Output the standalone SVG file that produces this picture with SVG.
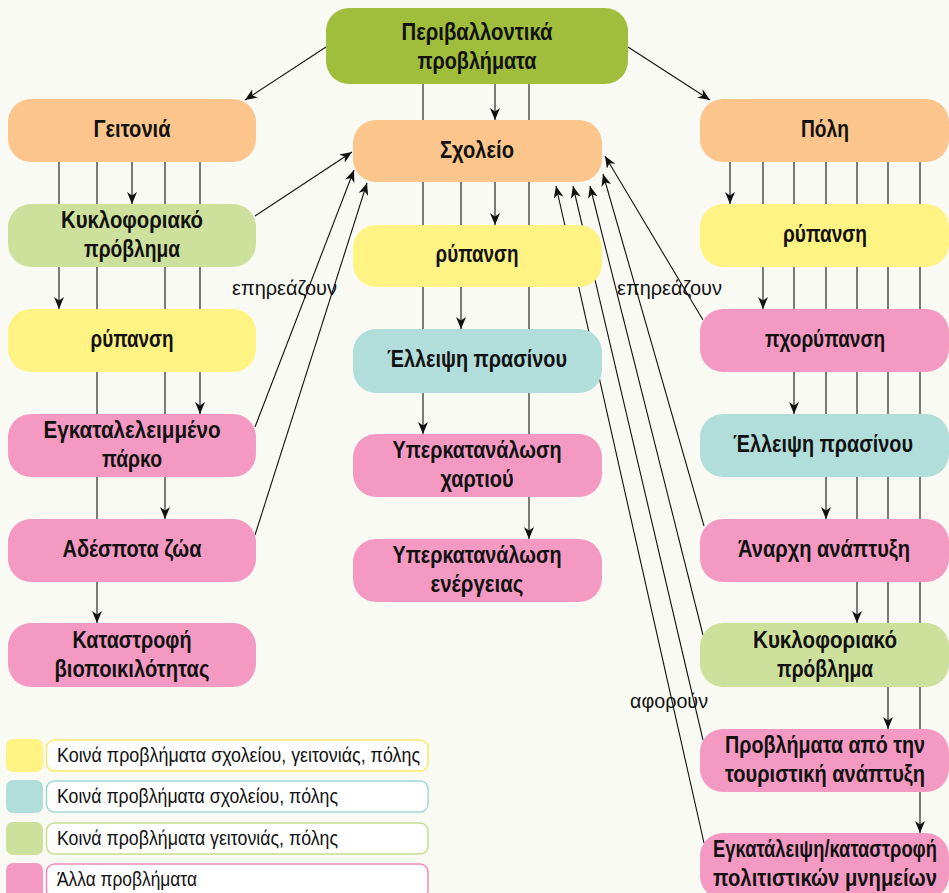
<svg xmlns="http://www.w3.org/2000/svg" width="949" height="893" viewBox="0 0 949 893">
<style>
.bg{fill:#fafaf5}
.n rect{rx:23px;ry:23px}
.top{fill:#a0be3b}
.peach{fill:#fbc58b}
.yel{fill:#fff383}
.teal{fill:#b1dedb}
.grn{fill:#cde09c}
.pink{fill:#f49ac2}
.t{font-family:"Liberation Sans",Arial,sans-serif;font-weight:bold;font-size:24px;fill:#111;text-anchor:middle}
.l{font-family:"Liberation Sans",Arial,sans-serif;font-size:21px;fill:#111}
.v{stroke:#444;stroke-width:1.4;fill:none;marker-end:url(#ah)}
.x{stroke:#111;stroke-width:1.1;fill:none;marker-end:url(#ah)}
.lb{fill:#fff;stroke-width:1.5}
</style>
<defs>
<marker id="ah" viewBox="0 0 12 10" refX="12" refY="5" markerWidth="12" markerHeight="10" markerUnits="userSpaceOnUse" orient="auto">
<path d="M0,0 L12,5 L0,10 L3.5,5 z" fill="#111"/>
</marker>
</defs>
<rect class="bg" x="0" y="0" width="949" height="893"/>

<g id="connectors">
<path class="x" d="M326,47 L245,100"/>
<path class="x" d="M628,47 L710,100"/>
<path class="v" d="M495,84 V120"/>
<path class="v" d="M423,84 V434"/>
<path class="v" d="M529,84 V539"/>
<path class="v" d="M495,182 V225"/>
<path class="v" d="M461,182 V329"/>
<path class="v" d="M132,162 V204"/>
<path class="v" d="M59,162 V309"/>
<path class="v" d="M200,162 V414"/>
<path class="v" d="M165,162 V519"/>
<path class="v" d="M97,162 V623"/>
<path class="v" d="M730,162 V204"/>
<path class="v" d="M763,162 V309"/>
<path class="v" d="M794,162 V414"/>
<path class="v" d="M826,162 V519"/>
<path class="v" d="M857,162 V623"/>
<path class="v" d="M888,162 V729"/>
<path class="v" d="M920,162 V833"/>
<path class="x" d="M255,216 L352,152"/>
<path class="x" d="M255,427 L354,170"/>
<path class="x" d="M255,535 L367,183"/>
<path class="x" d="M703,320 L605,156"/>
<path class="x" d="M704,526 L603,174"/>
<path class="x" d="M703,635 L590,186"/>
<path class="x" d="M703,740 L573,186"/>
<path class="x" d="M704,843 L556,186"/>
</g>

<g id="n-top" class="n"><rect class="top" x="326" y="8" width="302" height="76"/>
<text class="t" x="477" y="40" textLength="151" lengthAdjust="spacingAndGlyphs">Περιβαλλοντικά</text>
<text class="t" x="477" y="69" textLength="119" lengthAdjust="spacingAndGlyphs">προβλήματα</text></g>

<g id="n-geitonia" class="n"><rect class="peach" x="8" y="99" width="248" height="63"/>
<text class="t" x="132" y="137" textLength="77" lengthAdjust="spacingAndGlyphs">Γειτονιά</text></g>
<g id="n-kykl-l" class="n"><rect class="grn" x="8" y="204" width="248" height="63"/>
<text class="t" x="132" y="228" textLength="142" lengthAdjust="spacingAndGlyphs">Κυκλοφοριακό</text>
<text class="t" x="132" y="257" textLength="96" lengthAdjust="spacingAndGlyphs">πρόβλημα</text></g>
<g id="n-ryp-l" class="n"><rect class="yel" x="8" y="309" width="248" height="63"/>
<text class="t" x="132" y="347" textLength="83" lengthAdjust="spacingAndGlyphs">ρύπανση</text></g>
<g id="n-parko" class="n"><rect class="pink" x="8" y="414" width="248" height="63"/>
<text class="t" x="132" y="438" textLength="177" lengthAdjust="spacingAndGlyphs">Εγκαταλελειμμένο</text>
<text class="t" x="132" y="467" textLength="60" lengthAdjust="spacingAndGlyphs">πάρκο</text></g>
<g id="n-zoa" class="n"><rect class="pink" x="8" y="519" width="248" height="63"/>
<text class="t" x="132" y="557" textLength="139" lengthAdjust="spacingAndGlyphs">Αδέσποτα ζώα</text></g>
<g id="n-bio" class="n"><rect class="pink" x="8" y="623" width="248" height="64"/>
<text class="t" x="132" y="648" textLength="119" lengthAdjust="spacingAndGlyphs">Καταστροφή</text>
<text class="t" x="132" y="677" textLength="155" lengthAdjust="spacingAndGlyphs">βιοποικιλότητας</text></g>

<g id="n-scholeio" class="n"><rect class="peach" x="353" y="120" width="249" height="62"/>
<text class="t" x="477" y="158" textLength="74" lengthAdjust="spacingAndGlyphs">Σχολείο</text></g>
<g id="n-ryp-c" class="n"><rect class="yel" x="353" y="225" width="249" height="62"/>
<text class="t" x="477" y="262" textLength="83" lengthAdjust="spacingAndGlyphs">ρύπανση</text></g>
<g id="n-prasino-c" class="n"><rect class="teal" x="353" y="329" width="249" height="64"/>
<text class="t" x="477" y="367" textLength="180" lengthAdjust="spacingAndGlyphs">Έλλειψη πρασίνου</text></g>
<g id="n-xarti" class="n"><rect class="pink" x="353" y="434" width="249" height="63"/>
<text class="t" x="477" y="458" textLength="169" lengthAdjust="spacingAndGlyphs">Υπερκατανάλωση</text>
<text class="t" x="477" y="487" textLength="73" lengthAdjust="spacingAndGlyphs">χαρτιού</text></g>
<g id="n-energeia" class="n"><rect class="pink" x="353" y="539" width="249" height="63"/>
<text class="t" x="477" y="563" textLength="169" lengthAdjust="spacingAndGlyphs">Υπερκατανάλωση</text>
<text class="t" x="477" y="592" textLength="93" lengthAdjust="spacingAndGlyphs">ενέργειας</text></g>

<g id="n-poli" class="n"><rect class="peach" x="700" y="99" width="249" height="63"/>
<text class="t" x="825" y="137" textLength="48" lengthAdjust="spacingAndGlyphs">Πόλη</text></g>
<g id="n-ryp-r" class="n"><rect class="yel" x="700" y="204" width="249" height="63"/>
<text class="t" x="825" y="242" textLength="84" lengthAdjust="spacingAndGlyphs">ρύπανση</text></g>
<g id="n-ichor" class="n"><rect class="pink" x="700" y="309" width="249" height="63"/>
<text class="t" x="825" y="347" textLength="120" lengthAdjust="spacingAndGlyphs">πχορύπανση</text></g>
<g id="n-prasino-r" class="n"><rect class="teal" x="700" y="414" width="249" height="63"/>
<text class="t" x="823" y="452" textLength="180" lengthAdjust="spacingAndGlyphs">Έλλειψη πρασίνου</text></g>
<g id="n-anarxi" class="n"><rect class="pink" x="700" y="519" width="249" height="63"/>
<text class="t" x="824" y="557" textLength="172" lengthAdjust="spacingAndGlyphs">Άναρχη ανάπτυξη</text></g>
<g id="n-kykl-r" class="n"><rect class="grn" x="700" y="623" width="249" height="64"/>
<text class="t" x="825" y="648" textLength="144" lengthAdjust="spacingAndGlyphs">Κυκλοφοριακό</text>
<text class="t" x="825" y="677" textLength="96" lengthAdjust="spacingAndGlyphs">πρόβλημα</text></g>
<g id="n-tour" class="n"><rect class="pink" x="700" y="729" width="249" height="63"/>
<text class="t" transform="translate(825,753) scale(0.8,1)" x="0" y="0" textLength="250" lengthAdjust="spacingAndGlyphs">Προβλήματα από την</text>
<text class="t" transform="translate(825,782) scale(0.8,1)" x="0" y="0" textLength="250" lengthAdjust="spacingAndGlyphs">τουριστική ανάπτυξη</text></g>
<g id="n-mnimeia" class="n"><rect class="pink" x="700" y="833" width="249" height="66"/>
<text class="t" transform="translate(825,857) scale(0.78,1)" x="0" y="0" textLength="287" lengthAdjust="spacingAndGlyphs">Εγκατάλειψη/καταστροφή</text>
<text class="t" transform="translate(825,886) scale(0.78,1)" x="0" y="0" textLength="287" lengthAdjust="spacingAndGlyphs">πολιτιστικών μνημείων</text></g>

<g id="labels">
<text class="l" x="232" y="295" textLength="105" lengthAdjust="spacingAndGlyphs">επηρεάζουν</text>
<text class="l" x="617" y="295" textLength="105" lengthAdjust="spacingAndGlyphs">επηρεάζουν</text>
<text class="l" x="630" y="708" textLength="78" lengthAdjust="spacingAndGlyphs">αφορούν</text>
</g>

<g id="legend">
<rect class="yel" x="6" y="739" width="37" height="33" rx="7"/>
<rect class="lb" x="46.5" y="740" width="381.5" height="31" rx="8" stroke="#f5ea6a"/>
<text class="l" x="57" y="762" textLength="363" lengthAdjust="spacingAndGlyphs">Κοινά προβλήματα σχολείου, γειτονιάς, πόλης</text>
<rect class="teal" x="6" y="780" width="37" height="33" rx="7"/>
<rect class="lb" x="46.5" y="781" width="381.5" height="31" rx="8" stroke="#a2d7d5"/>
<text class="l" x="57" y="803" textLength="281" lengthAdjust="spacingAndGlyphs">Κοινά προβλήματα σχολείου, πόλης</text>
<rect class="grn" x="6" y="822" width="37" height="33" rx="7"/>
<rect class="lb" x="46.5" y="823" width="381.5" height="31" rx="8" stroke="#c6de90"/>
<text class="l" x="57" y="845" textLength="281" lengthAdjust="spacingAndGlyphs">Κοινά προβλήματα γειτονιάς, πόλης</text>
<rect class="pink" x="6" y="863" width="37" height="36" rx="7"/>
<rect class="lb" x="46.5" y="864" width="381.5" height="34" rx="8" stroke="#f08ab7"/>
<text class="l" x="57" y="886" textLength="140" lengthAdjust="spacingAndGlyphs">Άλλα προβλήματα</text>
</g>
</svg>
